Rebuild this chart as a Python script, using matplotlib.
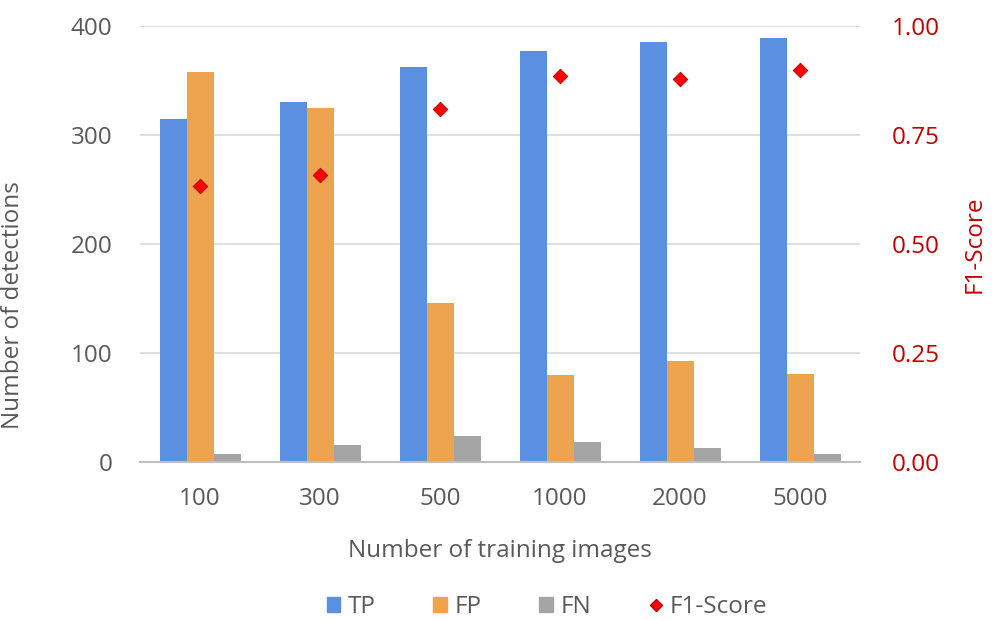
import matplotlib
matplotlib.use("Agg")
import numpy as np
import matplotlib.pyplot as plt
from matplotlib.patches import Patch
from matplotlib.lines import Line2D

plt.rcParams["font.family"] = ["Open Sans", "DejaVu Sans"]

images = ["100", "300", "500", "1000", "2000", "5000"]
tp = [315, 330, 362, 377, 385, 389]
fp = [358, 325, 146, 80, 93, 81]
fn = [7, 16, 24, 18, 13, 7]
f1 = [0.632, 0.659, 0.810, 0.885, 0.879, 0.898]

c_tp = "#5B8FE0"
c_fp = "#EEA44F"
c_fn = "#A5A5A5"
c_f1 = "#FF0000"
dark_red = "#C00000"
grey_txt = "#595959"
fs = 17.5

fig = plt.figure(figsize=(9.97, 6.2), dpi=100)
ax = fig.add_axes([140 / 997, 158 / 620, 720 / 997, 436 / 620])

x = np.arange(len(images))
w = 0.225
ax.bar(x - w, tp, w, color=c_tp, zorder=3)
ax.bar(x, fp, w, color=c_fp, zorder=3)
ax.bar(x + w, fn, w, color=c_fn, zorder=3)

ax.set_xlim(-0.5, len(images) - 0.5)
ax.set_ylim(0, 400)
ax.set_yticks([0, 100, 200, 300, 400])
ax.set_xticks(x)
ax.set_xticklabels(images)
ax.grid(axis="y", color="#D9D9D9", linewidth=1.2, zorder=0)
for s in ["top", "left", "right"]:
    ax.spines[s].set_visible(False)
ax.spines["bottom"].set_color("#BFBFBF")
ax.spines["bottom"].set_linewidth(1.5)
ax.spines["bottom"].set_zorder(4)
ax.tick_params(axis="both", length=0, labelsize=fs, colors=grey_txt)
ax.tick_params(axis="y", pad=20)
ax.tick_params(axis="x", pad=18)
ax.set_ylabel("Number of detections", fontsize=fs, color=grey_txt)
ax.yaxis.set_label_coords(-115 / 720, 0.36)
ax.set_xlabel("Number of training images", fontsize=fs, color=grey_txt, labelpad=20)

ax2 = ax.twinx()
ax2.scatter(x, f1, marker="D", s=55, color=c_f1, edgecolor="#B00000",
            linewidth=0.6, zorder=5)
ax2.set_ylim(0, 1.0)
ax2.set_yticks([0, 0.25, 0.5, 0.75, 1.0])
ax2.set_yticklabels(["0.00", "0.25", "0.50", "0.75", "1.00"])
for s in ["top", "left", "right", "bottom"]:
    ax2.spines[s].set_visible(False)
ax2.tick_params(axis="y", length=0, labelsize=fs, colors=dark_red, pad=23)
ax2.set_ylabel("F1-Score", fontsize=fs, color=dark_red, labelpad=16)

handles = [
    Patch(color=c_tp, label="TP"),
    Patch(color=c_fp, label="FP"),
    Patch(color=c_fn, label="FN"),
    Line2D([], [], marker="D", color=c_f1, markeredgecolor="#B00000",
           linestyle="None", markersize=6, label="F1-Score"),
]
leg = fig.legend(handles=handles, loc="center", bbox_to_anchor=(547 / 997, 1 - 607 / 620),
                 ncol=4, frameon=False, fontsize=fs, handlelength=0.55, handleheight=0.55,
                 handletextpad=0.3, columnspacing=2.4)
for t in leg.get_texts():
    t.set_color(grey_txt)

fig.savefig("out.png", dpi=100)
